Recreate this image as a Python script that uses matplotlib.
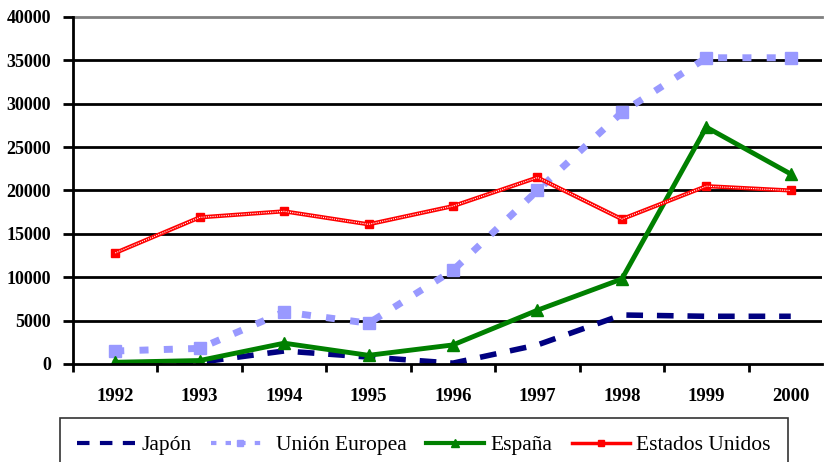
import numpy as np
import matplotlib.pyplot as plt
from matplotlib import font_manager
from matplotlib.lines import Line2D

years = ["1992", "1993", "1994", "1995", "1996", "1997", "1998", "1999", "2000"]
japon = [0, 200, 1500, 800, 100, 2200, 5650, 5500, 5500]
union_europea = [1500, 1800, 6000, 4700, 10800, 20000, 29000, 35300, 35300]
espana = [200, 400, 2400, 1000, 2200, 6200, 9800, 27300, 21900]
estados_unidos = [12800, 16900, 17600, 16100, 18200, 21500, 16700, 20500, 20000]

# pick a Times-like font that is actually installed
installed = set(f.name for f in font_manager.fontManager.ttflist)
serif = next((f for f in ["Liberation Serif", "Tinos", "Times New Roman", "Nimbus Roman",
                          "Noto Serif", "DejaVu Serif"] if f in installed), "DejaVu Serif")
plt.rcParams['font.family'] = [serif, 'DejaVu Serif']

# regular-weight file of that family for the legend
regular = [f.fname for f in font_manager.fontManager.ttflist
           if f.name == serif and f.style == "normal" and f.weight in (400, "normal", "regular")]
if regular:
    legend_font = font_manager.FontProperties(fname=regular[0], size=15.5)
else:
    legend_font = font_manager.FontProperties(family=[serif, "DejaVu Serif"], size=15.5)

fig = plt.figure(figsize=(8.24, 4.62), dpi=100)
ax = fig.add_axes([73/824, 98/462, 749/824, 347/462])

x = np.arange(len(years))

ax.plot(x, japon, color="#000080", lw=4, linestyle=(0, (3, 2.5)), zorder=3)
ax.plot(x, union_europea, color="#9999FF", lw=5, linestyle=(0, (1.3, 2.2)),
        marker="s", markersize=8, zorder=3)
ax.plot(x, espana, color="#008000", lw=3.5, marker="^", markersize=8, zorder=4)
ax.plot(x, estados_unidos, color="red", lw=3, marker="s", markersize=6, zorder=5)
ax.plot(x, estados_unidos, color="white", lw=0.8, linestyle=(0, (1, 1)), zorder=5)

ax.set_xlim(-0.5, 8.37)
ax.set_ylim(0, 40000)
ax.set_yticks(np.arange(0, 40001, 5000))
for v in np.arange(5000, 35001, 5000):
    ax.axhline(v, color="black", lw=2, zorder=1)
ax.axhline(40000, color="#808080", lw=2, zorder=1, clip_on=False)

ax.set_xticks(x)
ax.set_xticklabels(years)
ax.set_xticks(np.arange(-0.5, 8, 1), minor=True)
ax.tick_params(axis="x", which="major", length=0, pad=17)
ax.tick_params(axis="x", which="minor", length=6, width=2, direction="out")
ax.tick_params(axis="y", length=7, width=2, direction="out", pad=9)
for lab in ax.get_xticklabels():
    lab.set_fontweight("bold")
    lab.set_fontsize(13.5)
for lab in ax.get_yticklabels():
    lab.set_fontweight("bold")
    lab.set_fontsize(13)

for s in ["top", "right"]:
    ax.spines[s].set_visible(False)
for s in ["left", "bottom"]:
    ax.spines[s].set_linewidth(2)
    ax.spines[s].set_zorder(6)

handles = [
    Line2D([], [], color="#000080", lw=3, linestyle=(0, (3, 2.5))),
    Line2D([], [], color="#9999FF", lw=3, linestyle=(0, (1.3, 2.2)), marker="s", markersize=5),
    Line2D([], [], color="#008000", lw=3, marker="^", markersize=6),
    Line2D([], [], color="red", lw=2.5, marker="s", markersize=5),
]
labels = ["Japón", "Unión Europea", "España", "Estados Unidos"]
leg = fig.legend(handles, labels, loc="upper left", bbox_to_anchor=(60/824, 44/462),
                 ncol=4, frameon=True, fancybox=False, prop=legend_font,
                 handlelength=2.7, columnspacing=0.9, handletextpad=0.3,
                 borderpad=0.8, borderaxespad=0)
leg.get_frame().set_edgecolor("black")
leg.get_frame().set_linewidth(1.2)

fig.savefig("out.png", dpi=100)
